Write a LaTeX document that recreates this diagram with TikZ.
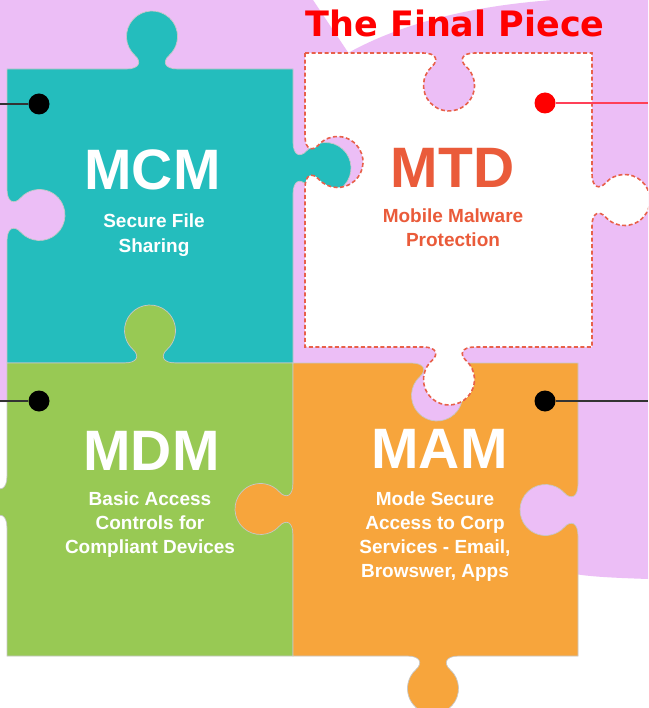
\documentclass[tikz,border=0pt]{standalone}
\usepackage{fontspec}
\setmainfont{Liberation Sans}
\newfontfamily\titlefont{DejaVu Sans}
\definecolor{pinkbg}{HTML}{ECBEF6}
\definecolor{pteal}{HTML}{24BDBD}
\definecolor{pgreen}{HTML}{98C954}
\definecolor{porange}{HTML}{F7A53C}
\definecolor{mtdtext}{HTML}{EA5B3A}
\definecolor{mtdline}{HTML}{E8604A}
\definecolor{redline}{HTML}{FF4058}
% knob: #1 cx, #2 cy (base centre), #3 tx, #4 ty (direction of travel), #5 +1 tab / -1 notch, #6 angle of travel
\newcommand{\puzzleknob}[6]{%
 -- ({#1+(-26)*(#3)},{#2+(-26)*(#4)})
 .. controls ({#1+(-12)*(#3)},{#2+(-12)*(#4)}) and ({#1+(-10.4)*(#3)+(#5)*7.5*(#4)},{#2+(-10.4)*(#4)-(#5)*7.5*(#3)})
 .. ({#1+(-17.06)*(#3)+(#5)*13.55*(#4)},{#2+(-17.06)*(#4)-(#5)*13.55*(#3)})
 arc[start angle={#6-(#5)*228}, end angle={#6+(#5)*48}, radius=25.5]
 .. controls ({#1+10.4*(#3)+(#5)*7.5*(#4)},{#2+10.4*(#4)-(#5)*7.5*(#3)}) and ({#1+12*(#3)},{#2+12*(#4)})
 .. ({#1+26*(#3)},{#2+26*(#4)})
}
\tikzset{
 bigt/.style={font=\fontsize{57}{57}\selectfont\bfseries, text=white, anchor=base, inner sep=0pt},
 subt/.style={font=\fontsize{19}{24}\selectfont\bfseries, text=white, anchor=base, inner sep=0pt},
 pindot/.style={circle, fill=black, minimum size=21pt, inner sep=0pt},
 conn/.style={line width=1.5pt, draw=black!80},
 piece/.style={draw=black!22, line width=0.7pt},
 mtdpiece/.style={fill=white, draw=mtdline, line width=1.6pt, dash pattern=on 4pt off 2.5pt},
}
\begin{document}
\begin{tikzpicture}[x=1pt,y=-1pt]
\useasboundingbox (0,0) rectangle (648,708);
\clip (0,0) rectangle (648,708);
\fill[white] (0,0) rectangle (648,708);
% background blobs
\fill[pinkbg] (0,0) -- (313,0) -- (420,160) -- (420,402) -- (0,402) -- cycle;
\fill[pinkbg] (348,53) .. controls (400,24) and (470,6) .. (553,0) -- (648,0) -- (648,579)
  .. controls (620,578) and (592,577) .. (575,574) -- (380,574) -- (380,300) -- cycle;
% MCM
\path[piece, fill=pteal] (7,69) \puzzleknob{152}{69}{1}{0}{1}{0} -- (293,69)
  \puzzleknob{293}{168}{0}{1}{1}{90} -- (293,363) -- (7,363)
  \puzzleknob{7}{215}{0}{-1}{-1}{270} -- cycle;
% MDM
\path[piece, fill=pgreen] (7,363) \puzzleknob{150}{363}{1}{0}{1}{0} -- (293,363) -- (293,656) -- (7,656)
  \puzzleknob{7}{502}{0}{-1}{1}{270} -- cycle;
% MAM
\path[piece, fill=porange] (293,363) \puzzleknob{437}{363}{1}{0}{-1}{0} -- (578,363)
  \puzzleknob{578}{510}{0}{1}{-1}{90} -- (578,656)
  \puzzleknob{433}{656}{-1}{0}{1}{180} -- (293,656)
  \puzzleknob{293}{509}{0}{-1}{1}{270} -- cycle;
% MTD
\path[mtdpiece] (305,53) \puzzleknob{449}{53}{1}{0}{-1}{0} -- (592,53)
  \puzzleknob{592}{200}{0}{1}{1}{90} -- (592,347)
  \puzzleknob{449}{347}{-1}{0}{1}{180} -- (305,347)
  \puzzleknob{305}{162}{0}{-1}{-1}{270} -- cycle;
% title
\node[font=\titlefont\bfseries\fontsize{35}{35}\selectfont, text=red, anchor=base, inner sep=0pt] (title) at (455,37) {The Final Piece};
% texts
\node[bigt] (mcmt) at (152.5,190) {MCM};
\node[subt] (mcm1) at (154,228) {Secure File};
\node[subt] (mcm2) at (154,252) {Sharing};
\node[bigt, text=mtdtext] (mtdt) at (452.5,188) {MTD};
\node[subt, text=mtdtext] (mtd1) at (453,223) {Mobile Malware};
\node[subt, text=mtdtext] (mtd2) at (453,247) {Protection};
\node[bigt] (mdmt) at (151.5,470) {MDM};
\node[subt] (mdm1) at (150,505) {Basic Access};
\node[subt] (mdm2) at (150,529) {Controls for};
\node[subt] (mdm3) at (150,553) {Compliant Devices};
\node[bigt] (mamt) at (439.5,468) {MAM};
\node[subt] (mam1) at (435,505) {Mode Secure};
\node[subt] (mam2) at (435,529) {Access to Corp};
\node[subt] (mam3) at (435,553) {Services - Email,};
\node[subt] (mam4) at (435,577) {Browswer, Apps};
% pins and connectors
\node[pindot] (dmcm) at (39,104) {};
\node[pindot] (dmdm) at (39,401) {};
\node[pindot, fill=red] (dmtd) at (545,103) {};
\node[pindot] (dmam) at (545,401) {};
\coordinate (emcm) at (0,104);
\coordinate (emdm) at (0,401);
\coordinate (emtd) at (648,103);
\coordinate (emam) at (648,401);
\draw[conn] (dmcm) -- (emcm);
\draw[conn] (dmdm) -- (emdm);
\draw[conn, draw=redline] (dmtd) -- (emtd);
\draw[conn] (dmam) -- (emam);
\end{tikzpicture}
\end{document}
